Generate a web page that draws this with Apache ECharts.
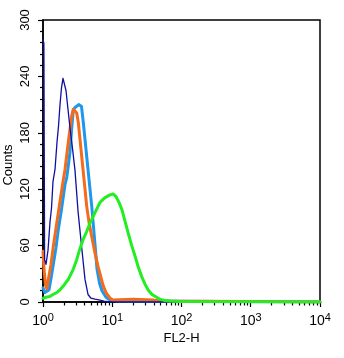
<!DOCTYPE html>
<html>
<head>
<meta charset="utf-8">
<script src="https://cdn.jsdelivr.net/npm/echarts@6/dist/echarts.min.js"></script>
<style>
  html, body { margin: 0; padding: 0; background: #fff; }
  #chart { width: 344px; height: 358px; }
</style>
</head>
<body>
<div id="chart"></div>
<script>
// FL2-H channel values (log scale) and event counts for each histogram
const navyFL2 = [1.0, 1.03, 1.055, 1.105, 1.181, 1.262, 1.327, 1.394, 1.491, 1.593, 1.674, 1.760, 1.850, 1.945, 2.044, 2.148, 2.296, 2.455, 2.623, 2.898, 3.201, 3.597, 4.042, 4.465, 4.934, 5.636, 6.655, 7.601, 9.279, 10000];
const navyCounts = [279, 275, 45, 40, 55, 85, 100, 128, 141, 170, 187, 210, 228, 238, 236, 225, 205, 185, 168, 140, 97, 60, 24, 8, 4, 3, 2, 1, 0, 0];

const blueFL2 = [1.0, 1.069, 1.142, 1.221, 1.305, 1.408, 1.541, 1.663, 1.819, 1.964, 2.079, 2.199, 2.319, 2.455, 2.597, 2.739, 2.898, 3.097, 3.311, 3.597, 3.820, 4.042, 4.276, 4.510, 4.772, 5.050, 5.362, 5.730, 6.023, 6.545, 7.111, 8.124, 9.279, 12.52, 10000];
const blueCounts = [15, 10, 9, 13, 25, 40, 58, 77, 95, 112, 125, 132, 145, 160, 185, 204, 207, 209, 210, 208, 191, 173, 155, 138, 120, 102, 80, 55, 35, 20, 12, 5, 2, 1, 0];

const orangeFL2 = [1.0, 1.034, 1.087, 1.142, 1.193, 1.305, 1.408, 1.663, 1.964, 2.079, 2.319, 2.597, 2.739, 2.898, 3.066, 3.233, 3.421, 3.621, 3.820, 4.042, 4.276, 4.616, 5.101, 5.636, 6.227, 6.655, 7.352, 8.124, 9.279, 10.25, 20, 40, 57.77, 10000];
const orangeCounts = [54, 35, 18, 14, 24, 40, 59, 95, 130, 141, 170, 198, 205, 204, 201, 191, 173, 155, 138, 120, 102, 85, 68, 52, 38, 30, 18, 10, 4, 2, 3, 2, 1, 0];

const greenFL2 = [1.0, 1.105, 1.262, 1.394, 1.577, 1.760, 1.964, 2.148, 2.319, 2.537, 2.739, 3.066, 3.421, 3.782, 4.276, 4.772, 5.636, 6.655, 7.858, 9.279, 10.25, 11.33, 12.52, 13.83, 15.28, 16.88, 19.10, 21.31, 23.54, 26.63, 29.72, 32.83, 37.50, 43.84, 48.92, 57.77, 68.23, 95.1, 10000];
const greenCounts = [4, 5, 6, 8, 10, 13, 17, 21, 24, 30, 35, 45, 57, 66, 75, 84, 95, 106, 111, 114, 115, 112, 106, 98, 86, 74, 60, 49, 38, 27, 19, 13, 8, 5, 3, 1.5, 1, 0.5, 0];

// Axis ticks
const countTicks = [0, 60, 120, 180, 240, 300];
const decadeTicks = [1, 10, 100, 1000, 10000];

const FONT = '"Liberation Sans", Arial, sans-serif';

const zip = (xs, ys) => xs.map((x, i) => [x, ys[i]]);

// Minor tick positions on the log axis (2..9 within each decade), in log10 units
const minorLog = [];
for (let d = 0; d < 4; d++) {
  for (let m = 2; m <= 9; m++) minorLog.push(d + Math.log10(m));
}

function hist(name, xs, ys, color, width) {
  return {
    name: name,
    type: 'line',
    xAxisIndex: 0,
    yAxisIndex: 0,
    data: zip(xs, ys),
    showSymbol: false,
    symbol: 'none',
    animation: false,
    lineStyle: { color: color, width: width, join: 'round', cap: 'round' },
    z: 2
  };
}

const chart = echarts.init(document.getElementById('chart'), null, { renderer: 'canvas' });

chart.setOption({
  animation: false,
  backgroundColor: '#ffffff',
  grid: {
    left: 43, right: 24, top: 20, bottom: 56,
    containLabel: false,
    outerBoundsMode: 'none',
    show: true, borderColor: '#000', borderWidth: 1.5, backgroundColor: 'transparent'
  },
  xAxis: [
    {
      type: 'log',
      logBase: 10,
      min: decadeTicks[0],
      max: decadeTicks[decadeTicks.length - 1],
      name: 'FL2-H',
      nameLocation: 'middle',
      nameGap: 30,
      nameMoveOverlap: false,
      nameTextStyle: { fontFamily: FONT, fontSize: 13, color: '#000' },
      axisLine: { show: true, lineStyle: { color: '#000', width: 1.5 } },
      axisTick: { show: true, inside: false, length: 5, lineStyle: { color: '#000', width: 1.2 } },
      splitLine: { show: false },
      minorTick: { show: false },
      axisLabel: {
        show: true,
        margin: 10,
        color: '#000',
        fontFamily: FONT,
        formatter: function (v) {
          return '{a|10}{b|' + Math.round(Math.log10(v)) + '}';
        },
        rich: {
          a: { fontFamily: FONT, fontSize: 14, color: '#000' },
          b: { fontFamily: FONT, fontSize: 11, color: '#000', padding: [0, 0, 8, 0] }
        }
      }
    },
    {
      // minor ticks between decades
      type: 'value',
      min: 0,
      max: 4,
      position: 'bottom',
      axisLine: { show: false },
      axisLabel: { show: false },
      splitLine: { show: false },
      axisTick: {
        show: true, inside: false, length: 3.5,
        customValues: minorLog,
        lineStyle: { color: '#000', width: 1.2 }
      }
    }
  ],
  yAxis: {
    type: 'value',
    min: countTicks[0],
    max: countTicks[countTicks.length - 1],
    interval: 60,
    name: 'Counts',
    nameLocation: 'middle',
    nameRotate: 90,
    nameGap: 28,
    nameMoveOverlap: false,
    nameTextStyle: { fontFamily: FONT, fontSize: 13, color: '#000', padding: [0, 8, 0, 0] },
    axisLine: { show: true, lineStyle: { color: '#000', width: 1.5 } },
    axisTick: { show: true, inside: false, length: 5, lineStyle: { color: '#000', width: 1.2 } },
    minorTick: { show: true, splitNumber: 5, length: 3, lineStyle: { color: '#000', width: 1.2 } },
    splitLine: { show: false },
    axisLabel: {
      rotate: 90,
      margin: 11,
      color: '#000',
      fontFamily: FONT,
      fontSize: 13
    }
  },
  series: [
    hist('blue', blueFL2, blueCounts, '#1E98EC', 3),
    hist('orange', orangeFL2, orangeCounts, '#F46B1C', 3),
    hist('navy', navyFL2, navyCounts, '#10109E', 1.3),
    hist('green', greenFL2, greenCounts, '#22EE22', 3)
  ]
});
</script>
</body>
</html>
